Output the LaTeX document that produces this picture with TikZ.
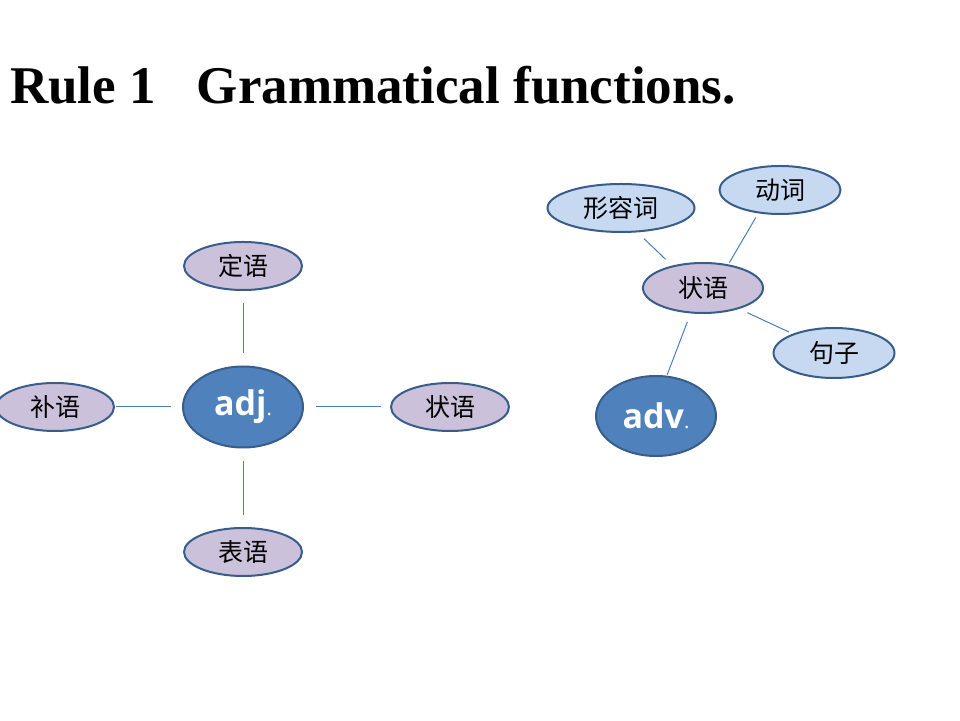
\documentclass[tikz,border=0pt]{standalone}
\usepackage{fontspec}
\setmainfont{Liberation Serif}
\newfontfamily\cjk{Noto Sans CJK SC}
\newfontfamily\osans{Open Sans}
\usetikzlibrary{shapes.geometric}
\definecolor{bordc}{HTML}{385D8A}
\definecolor{lav}{HTML}{CCC1DA}
\definecolor{lblue}{HTML}{C6D9F1}
\definecolor{mblue}{HTML}{4F81BD}
\definecolor{linec}{HTML}{4A7EBB}
\tikzset{
  bub/.style={ellipse, draw=bordc, line width=2pt, inner sep=0pt, minimum width=118pt, minimum height=48pt, font=\cjk\fontsize{25}{25}\selectfont},
  lavbub/.style={bub, fill=lav},
  bluebub/.style={bub, fill=lblue},
  bigbub/.style={ellipse, draw=bordc, line width=2pt, fill=mblue, inner sep=0pt, minimum width=120pt, minimum height=81pt, text=white, font=\osans\bfseries\fontsize{34}{34}\selectfont},
  conn/.style={draw=linec, line width=1pt}
}
\begin{document}
\begin{tikzpicture}[x=1pt,y=1pt]
\useasboundingbox (0,0) rectangle (960,720);
\fill[white] (0,0) rectangle (960,720);
\node[anchor=base west, inner sep=0pt, font=\bfseries\fontsize{53}{53}\selectfont] (title) at (10,616) {Rule 1\hspace{41pt}Grammatical functions.};
% left cluster
\node[lavbub] (dingyu) at (243,454) {定语};
\node[bigbub] (adj) at (243,313) {adj{\mdseries\fontsize{20}{20}\selectfont .}};
\node[lavbub] (buyu) at (55,313) {补语};
\node[lavbub] (zhuang1) at (450,313) {状语};
\node[lavbub] (biaoyu) at (243,168) {表语};
\draw[conn, shorten <=12pt, shorten >=12pt] (dingyu) -- (adj);
\draw[conn, shorten <=11pt, shorten >=1pt] (adj) -- (buyu);
\draw[conn, shorten <=12pt, shorten >=9pt] (adj) -- (zhuang1);
\draw[conn, shorten <=13pt, shorten >=12pt] (adj) -- (biaoyu);
% right cluster
\node[bluebub, minimum width=147pt] (xing) at (621,512) {形容词};
\node[bluebub, minimum width=121pt] (dong) at (780,530) {动词};
\node[lavbub, minimum width=120pt, minimum height=50pt] (zhuang2) at (703,432) {状语};
\node[bluebub, minimum width=121pt, minimum height=50pt] (juzi) at (834,367) {句子};
\node[bigbub, minimum height=80pt] (adv) at (656,304) {adv{\mdseries\fontsize{20}{20}\selectfont .}};
\draw[conn, shorten <=9pt, shorten >=9pt] (xing.-56.7) -- (zhuang2.144.3);
\draw[conn, shorten <=5pt, shorten >=2pt] (dong.227) -- (zhuang2.43);
\draw[conn, shorten <=9pt, shorten >=4pt] (zhuang2.-30.6) -- (juzi.155.5);
\draw[conn, shorten <=9pt, shorten >=1pt] (zhuang2.244.8) -- (adv.75.3);
\end{tikzpicture}
\end{document}
